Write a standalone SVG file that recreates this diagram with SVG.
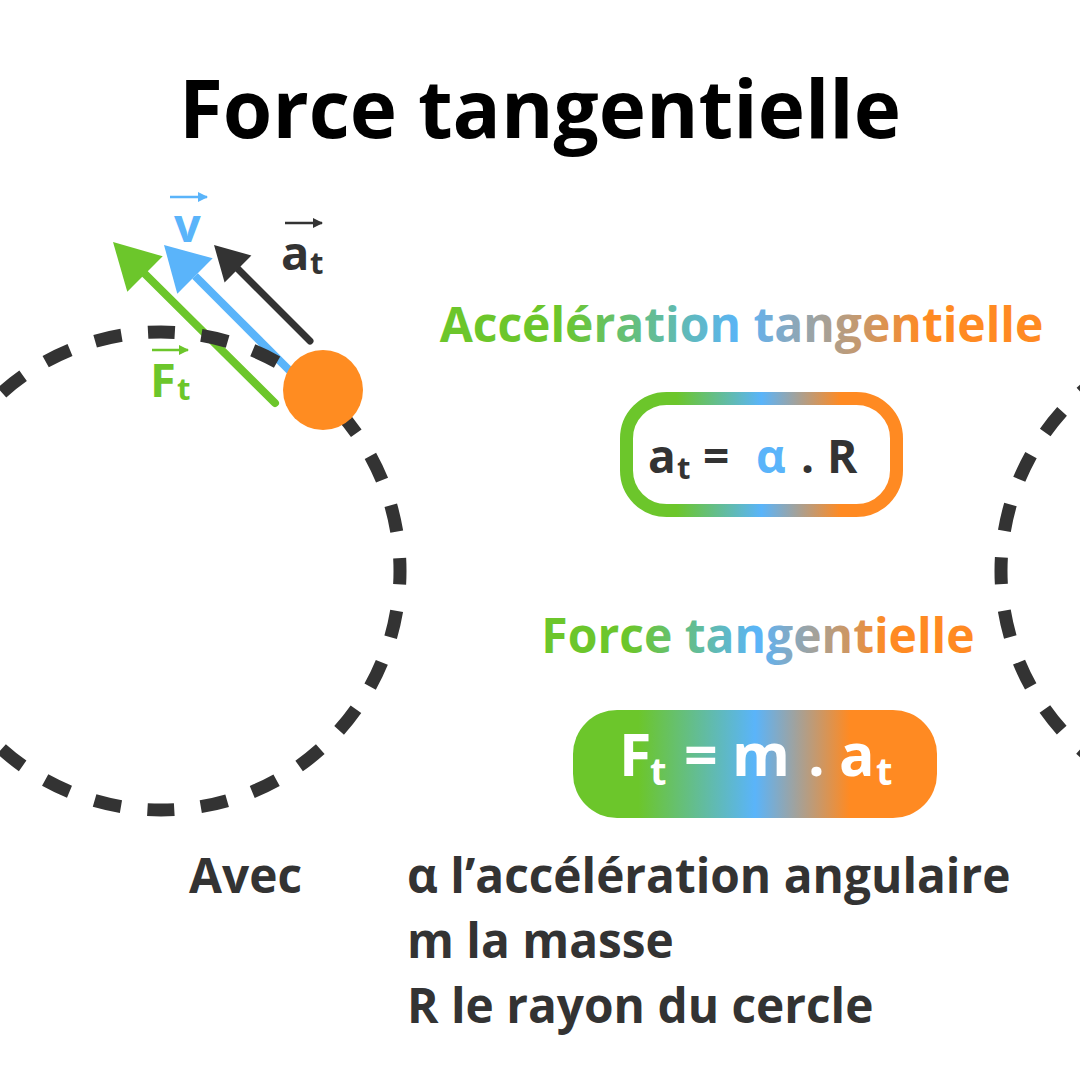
<svg xmlns="http://www.w3.org/2000/svg" width="1080" height="1080" viewBox="0 0 1080 1080">
  <style>
    text { font-family: "Open Sans", "Liberation Sans", sans-serif; font-weight: 700; }
    .dash { fill: none; stroke: #333333; stroke-width: 13; stroke-dasharray: 27 26.63; stroke-dashoffset: 13.5; }
    .legend { font-size: 47.8px; fill: #333333; }
  </style>
  <defs>
    <linearGradient id="gH1" gradientUnits="userSpaceOnUse" x1="441" y1="0" x2="1042" y2="0">
      <stop offset="0" stop-color="#6CC62B"/>
      <stop offset="0.2" stop-color="#6CC62B"/>
      <stop offset="0.5" stop-color="#5AB4FA"/>
      <stop offset="0.8" stop-color="#FF8A22"/>
      <stop offset="1" stop-color="#FF8A22"/>
    </linearGradient>
    <linearGradient id="gH2" gradientUnits="userSpaceOnUse" x1="544" y1="0" x2="972" y2="0">
      <stop offset="0" stop-color="#6CC62B"/>
      <stop offset="0.2" stop-color="#6CC62B"/>
      <stop offset="0.5" stop-color="#5AB4FA"/>
      <stop offset="0.8" stop-color="#FF8A22"/>
      <stop offset="1" stop-color="#FF8A22"/>
    </linearGradient>
    <linearGradient id="gB1" gradientUnits="userSpaceOnUse" x1="620" y1="0" x2="903" y2="0">
      <stop offset="0" stop-color="#6CC62B"/>
      <stop offset="0.2" stop-color="#6CC62B"/>
      <stop offset="0.5" stop-color="#5AB4FA"/>
      <stop offset="0.78" stop-color="#FF8A22"/>
      <stop offset="1" stop-color="#FF8A22"/>
    </linearGradient>
    <linearGradient id="gB2" gradientUnits="userSpaceOnUse" x1="573" y1="0" x2="937" y2="0">
      <stop offset="0" stop-color="#6CC62B"/>
      <stop offset="0.18" stop-color="#6CC62B"/>
      <stop offset="0.5" stop-color="#5AB4FA"/>
      <stop offset="0.76" stop-color="#FF8A22"/>
      <stop offset="1" stop-color="#FF8A22"/>
    </linearGradient>
    <marker id="mBlue" viewBox="0 0 10 10" refX="9" refY="5" markerWidth="10" markerHeight="10" markerUnits="userSpaceOnUse" orient="auto">
      <path d="M0,0 L10,5 L0,10 Z" fill="#5AB4FA"/>
    </marker>
    <marker id="mDark" viewBox="0 0 10 10" refX="9" refY="5" markerWidth="10" markerHeight="10" markerUnits="userSpaceOnUse" orient="auto">
      <path d="M0,0 L10,5 L0,10 Z" fill="#333333"/>
    </marker>
    <marker id="mGreen" viewBox="0 0 10 10" refX="9" refY="5" markerWidth="10" markerHeight="10" markerUnits="userSpaceOnUse" orient="auto">
      <path d="M0,0 L10,5 L0,10 Z" fill="#6CC62B"/>
    </marker>
  </defs>

  <rect x="0" y="0" width="1080" height="1080" fill="#FFFFFF"/>

  <g id="title">
    <text x="540" y="138" font-size="80" text-anchor="middle" fill="#000000">Force tangentielle</text>
  </g>

  <g id="connectors">
    <g id="vector-F">
      <line x1="275" y1="403" x2="145" y2="274" stroke="#6CC62B" stroke-width="8" stroke-linecap="round"/>
      <polygon points="113,242 127.3,291.7 162.7,256.3" fill="#6CC62B"/>
    </g>
    <g id="vector-v">
      <line x1="300" y1="381" x2="195" y2="276" stroke="#5AB4FA" stroke-width="8"/>
      <polygon points="164,245 177.3,293.7 212.7,258.3" fill="#5AB4FA"/>
    </g>
    <g id="vector-a">
      <line x1="310" y1="341" x2="238" y2="269" stroke="#333333" stroke-width="7" stroke-linecap="round"/>
      <polygon points="214,245 224.6,282.4 251.4,255.6" fill="#333333"/>
    </g>
  </g>

  <g id="circle-left">
    <circle class="dash" cx="161" cy="571" r="239"/>
  </g>
  <g id="circle-right">
    <circle class="dash" cx="1240" cy="571" r="239"/>
  </g>

  <g id="ball">
    <circle cx="323" cy="390" r="40" fill="#FF8C21"/>
  </g>

  <g id="label-v">
    <line x1="170" y1="197" x2="207" y2="197" stroke="#5AB4FA" stroke-width="2.5" marker-end="url(#mBlue)"/>
    <text x="174" y="242" font-size="47" fill="#5AB4FA">v</text>
  </g>
  <g id="label-at">
    <line x1="285" y1="223" x2="322" y2="223" stroke="#333333" stroke-width="2.5" marker-end="url(#mDark)"/>
    <text x="281" y="270" font-size="47" fill="#333333">a<tspan x="310" y="274" font-size="31">t</tspan></text>
  </g>
  <g id="label-Ft">
    <line x1="152" y1="350" x2="188" y2="350" stroke="#6CC62B" stroke-width="2.5" marker-end="url(#mGreen)"/>
    <text x="150" y="397" font-size="47" fill="#6CC62B">F<tspan x="177" y="400" font-size="31">t</tspan></text>
  </g>

  <g id="heading-acceleration">
    <text x="741.5" y="342" font-size="48" text-anchor="middle" fill="url(#gH1)">Accélération tangentielle</text>
  </g>

  <g id="box-acceleration">
    <rect x="626.5" y="398.5" width="270" height="112" rx="40" fill="#FFFFFF" stroke="url(#gB1)" stroke-width="13"/>
    <text y="473" font-size="46" fill="#333333"><tspan x="648">a</tspan><tspan x="677" y="479" font-size="31">t</tspan><tspan x="703" y="473">=</tspan><tspan x="756" fill="#5AB4FA">α</tspan><tspan x="801">.</tspan><tspan x="827">R</tspan></text>
  </g>

  <g id="heading-force">
    <text x="758" y="653" font-size="48" text-anchor="middle" fill="url(#gH2)">Force tangentielle</text>
  </g>

  <g id="box-force">
    <rect x="573" y="710" width="364" height="108" rx="44" fill="url(#gB2)"/>
    <text y="776" font-size="59" fill="#FFFFFF"><tspan x="619">F</tspan><tspan x="650" y="785" font-size="38">t</tspan><tspan x="684" y="776">=</tspan><tspan x="732">m</tspan><tspan x="808">.</tspan><tspan x="839">a</tspan><tspan x="876" y="785" font-size="38">t</tspan></text>
  </g>

  <g id="legend">
    <text class="legend" x="189" y="893">Avec</text>
    <text class="legend" x="407" y="893">α l’accélération angulaire</text>
    <text class="legend" x="407" y="958">m la masse</text>
    <text class="legend" x="407" y="1023">R le rayon du cercle</text>
  </g>
</svg>
